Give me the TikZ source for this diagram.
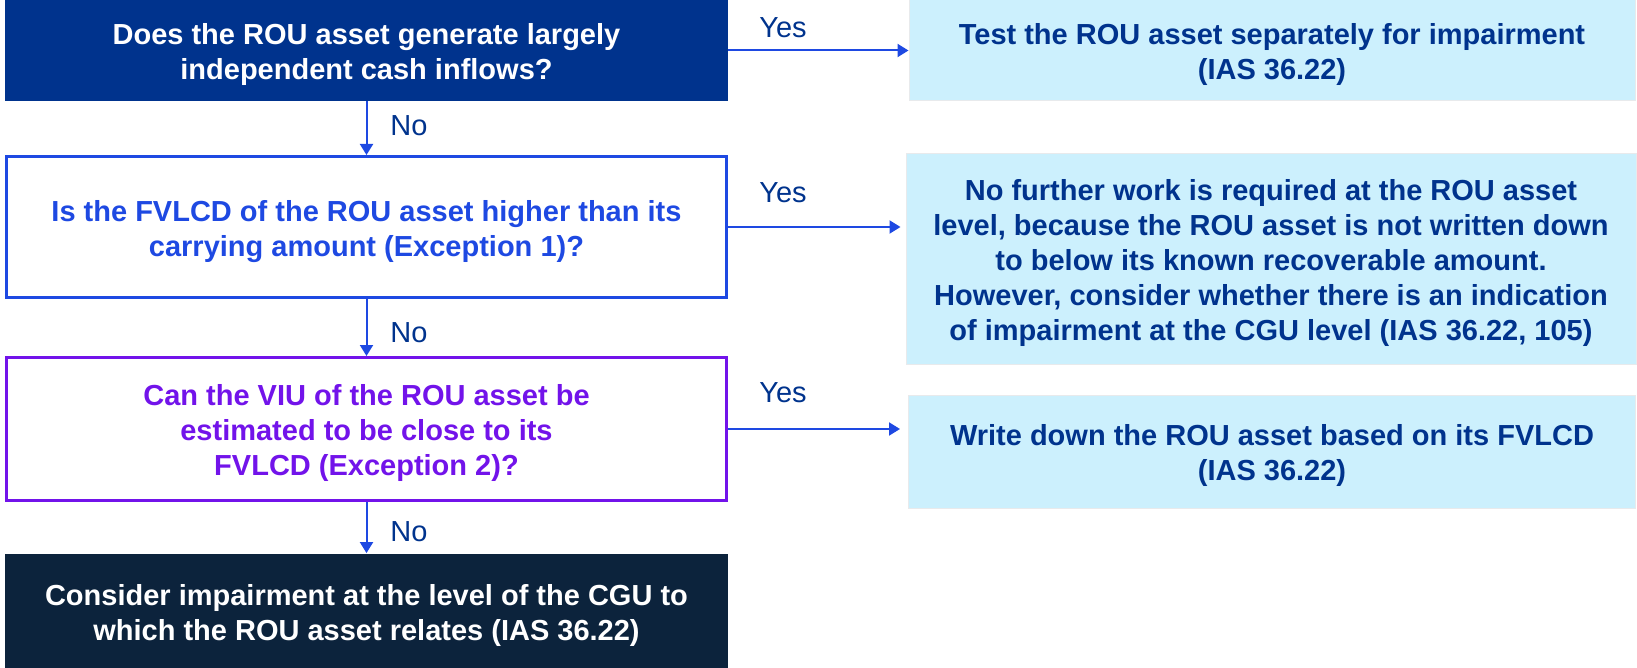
\documentclass[tikz,border=0pt]{standalone}
\usepackage{fontspec}
\setmainfont{Liberation Sans}
\usetikzlibrary{arrows.meta,calc}
\definecolor{kblue}{HTML}{00338D}
\definecolor{cobalt}{HTML}{1E49E2}
\definecolor{kpurple}{HTML}{7213EA}
\definecolor{knavy}{HTML}{0C233C}
\definecolor{klight}{RGB}{204,240,253}
\definecolor{kgrey}{RGB}{232,234,236}
\newcommand{\topstrut}{\rule{0pt}{14.8pt}}
\tikzset{
  base/.style={inner sep=0pt, align=center, font=\bfseries\fontsize{14.5}{17.5}\selectfont},
  qdark/.style={base, fill=kblue, text=white, minimum width=361.5pt, minimum height=50.5pt},
  qblue/.style={base, draw=cobalt, line width=1.5pt, text=cobalt, minimum width=360pt},
  qpurple/.style={base, draw=kpurple, line width=1.5pt, text=kpurple, minimum width=360pt},
  qnavy/.style={base, fill=knavy, text=white, minimum width=361.5pt, minimum height=57.5pt},
  ans/.style={base, fill=klight, draw=kgrey, line width=0.5pt, text=kblue},
  arr/.style={draw=cobalt, line width=1pt, -{Triangle[length=5.5pt,width=6.5pt]}},
  lbl/.style={inner sep=0pt, text=kblue, font=\fontsize{14.5}{17.5}\selectfont}
}
\begin{document}
\begin{tikzpicture}[x=0.5pt,y=-0.5pt]
\useasboundingbox (0,0) rectangle (1637,668);
% questions
\node[qdark] (q1) at (366.5,50.5) {\topstrut Does the ROU asset generate largely\\independent cash inflows?};
\node[qblue, minimum height=70.5pt] (q2) at (366.5,227) {\topstrut Is the FVLCD of the ROU asset higher than its\\carrying amount (Exception 1)?};
\node[qpurple, minimum height=71.5pt] (q3) at (366.5,429) {\topstrut Can the VIU of the ROU asset be\\estimated to be close to its\\FVLCD (Exception 2)?};
\node[qnavy] (q4) at (366.5,611) {\topstrut Consider impairment at the level of the CGU to\\which the ROU asset relates (IAS 36.22)};
% answers
\node[ans, minimum width=363pt, minimum height=50.5pt] (a1) at (1272,50.5) {\topstrut Test the ROU asset separately for impairment\\(IAS 36.22)};
\node[ans, minimum width=365pt, minimum height=105pt] (a2) at (1271,259) {\topstrut No further work is required at the ROU asset\\level, because the ROU asset is not written down\\to below its known recoverable amount.\\However, consider whether there is an indication\\of impairment at the CGU level (IAS 36.22, 105)};
\node[ans, minimum width=363.5pt, minimum height=56.5pt] (a3) at (1272,451.5) {\topstrut Write down the ROU asset based on its FVLCD\\(IAS 36.22)};
% connectors
\draw[arr] (q1.east) -- (q1.east -| a1.west);
\draw[arr, shorten >=2.5pt] (q2.east) -- (q2.east -| a2.west);
\draw[arr, shorten >=4pt] (q3.east) -- (q3.east -| a3.west);
\draw[arr] (q1.south) -- (q2.north);
\draw[arr] (q2.south) -- (q3.north);
\draw[arr] (q3.south) -- (q4.north);
% labels
\node[lbl, anchor=west] (y1) at (759,28) {Yes};
\node[lbl, anchor=west] (y2) at (759,193) {Yes};
\node[lbl, anchor=west] (y3) at (759,393) {Yes};
\node[lbl, anchor=west] (n1) at (390,126) {No};
\node[lbl, anchor=west] (n2) at (390,333) {No};
\node[lbl, anchor=west] (n3) at (390,532) {No};
\end{tikzpicture}
\end{document}
